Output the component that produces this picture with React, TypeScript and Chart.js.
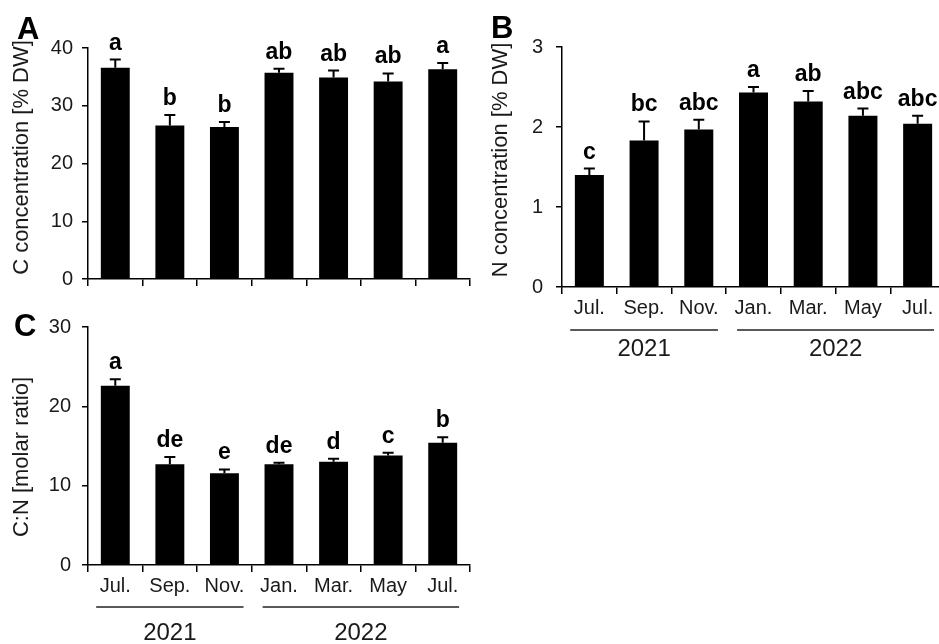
import React, { useEffect, useRef } from "react";
import { Chart, registerables } from "chart.js";
Chart.register(...registerables);

const months = ["Jul.", "Sep.", "Nov.", "Jan.", "Mar.", "May", "Jul."];
const years = ["2021", "2022"];
const yearFirst = [0, 3];
const yearLast = [2, 6];

const cValues = [36.6, 26.6, 26.3, 35.7, 34.9, 34.2, 36.3];
const cErrors = [1.4, 1.8, 0.9, 0.7, 1.2, 1.4, 1.1];
const cLetters = ["a", "b", "b", "ab", "ab", "ab", "a"];

const nValues = [1.4, 1.83, 1.97, 2.43, 2.32, 2.14, 2.04];
const nErrors = [0.08, 0.24, 0.12, 0.07, 0.13, 0.09, 0.1];
const nLetters = ["c", "bc", "abc", "a", "ab", "abc", "abc"];

const cnValues = [22.6, 12.7, 11.55, 12.7, 13.0, 13.8, 15.4];
const cnErrors = [0.8, 0.9, 0.5, 0.2, 0.4, 0.35, 0.7];
const cnLetters = ["a", "de", "e", "de", "d", "c", "b"];

const FONT = '"Liberation Sans", Arial, Helvetica, sans-serif';

const annotPlugin = {
  id: "annot",
  afterDatasetsDraw(chart: any, _args: any, opts: any) {
    const ctx = chart.ctx;
    const y = chart.scales.y;
    const ds = chart.data.datasets[0];
    const meta = chart.getDatasetMeta(0);
    ctx.save();
    meta.data.forEach((bar: any, i: number) => {
      const v = ds.data[i];
      const e = opts.errors[i];
      const px = bar.x;
      const yTop = y.getPixelForValue(v + e);
      const yBar = y.getPixelForValue(v);
      ctx.strokeStyle = "#000";
      ctx.lineWidth = 2;
      ctx.beginPath();
      ctx.moveTo(px, yBar);
      ctx.lineTo(px, yTop);
      ctx.moveTo(px - 5.5, yTop);
      ctx.lineTo(px + 5.5, yTop);
      ctx.stroke();
      ctx.font = `bold 23px ${FONT}`;
      ctx.textAlign = "center";
      ctx.textBaseline = "alphabetic";
      ctx.fillStyle = "#000";
      ctx.fillText(opts.letters[i], px, yTop - 10);
    });
    ctx.restore();
  },
  afterDraw(chart: any, _args: any, opts: any) {
    const ctx = chart.ctx;
    const area = chart.chartArea;
    const x = chart.scales.x;
    ctx.save();
    // panel letter
    ctx.font = `bold 31px ${FONT}`;
    ctx.fillStyle = "#000";
    ctx.textAlign = "left";
    ctx.textBaseline = "alphabetic";
    ctx.fillText(opts.panel, opts.panelX, opts.panelY);
    // y title
    ctx.save();
    ctx.translate(area.left - opts.titleOffset, (area.top + area.bottom) / 2 + opts.titleShift);
    ctx.rotate(-Math.PI / 2);
    ctx.font = `22px ${FONT}`;
    ctx.fillStyle = "#1a1a1a";
    ctx.textAlign = "center";
    ctx.textBaseline = "middle";
    ctx.fillText(opts.title, 0, 0);
    ctx.restore();
    // years
    if (opts.showYears) {
      const n = chart.data.labels.length;
      const cw = (x.right - x.left) / n;
      years.forEach((yr, k) => {
        const l = x.getPixelForValue(yearFirst[k]) - cw / 2;
        const r = x.getPixelForValue(yearLast[k]) + cw / 2;
        const c = (l + r) / 2;
        const half = ((r - l) * 0.9) / 2;
        ctx.strokeStyle = "#222";
        ctx.lineWidth = 1.5;
        ctx.beginPath();
        ctx.moveTo(c - half, area.bottom + opts.lineGap);
        ctx.lineTo(c + half, area.bottom + opts.lineGap);
        ctx.stroke();
        ctx.font = `24px ${FONT}`;
        ctx.fillStyle = "#1a1a1a";
        ctx.textAlign = "center";
        ctx.textBaseline = "middle";
        ctx.fillText(yr, c, area.bottom + opts.yearGap);
      });
    }
    ctx.restore();
  },
};

type PanelProps = {
  values: number[];
  errors: number[];
  letters: string[];
  yMax: number;
  yStep: number;
  showLabels: boolean;
  width: number;
  height: number;
  yWidth: number;
  xHeight: number;
  padTop: number;
  padRight: number;
  tickPad: number;
  panel: string;
  panelX: number;
  panelY: number;
  title: string;
  titleOffset: number;
  titleShift: number;
  lineGap: number;
  yearGap: number;
  style: React.CSSProperties;
};

function Panel(p: PanelProps) {
  const ref = useRef<HTMLCanvasElement | null>(null);
  useEffect(() => {
    if (!ref.current) return;
    const chart = new Chart(ref.current, {
      type: "bar",
      data: {
        labels: months,
        datasets: [
          {
            data: p.values,
            backgroundColor: "#000",
            borderColor: "#000",
            borderWidth: 0,
            categoryPercentage: 1,
            barPercentage: 0.53,
          },
        ],
      },
      plugins: [annotPlugin],
      options: {
        responsive: false,
        animation: false,
        layout: { padding: { top: p.padTop, right: p.padRight, left: 0, bottom: 0 } },
        plugins: {
          legend: { display: false },
          tooltip: { enabled: false },
          annot: {
            errors: p.errors,
            letters: p.letters,
            panel: p.panel,
            panelX: p.panelX,
            panelY: p.panelY,
            title: p.title,
            titleOffset: p.titleOffset,
            titleShift: p.titleShift,
            showYears: p.showLabels,
            lineGap: p.lineGap,
            yearGap: p.yearGap,
          },
        } as any,
        scales: {
          x: {
            type: "category",
            offset: true,
            grid: {
              display: true,
              drawOnChartArea: false,
              drawTicks: true,
              tickLength: 7,
              color: "#000",
              lineWidth: 1.5,
              offset: true,
            },
            border: { display: true, color: "#000", width: 1.5 },
            ticks: {
              display: p.showLabels,
              color: "#1a1a1a",
              font: { family: FONT, size: 20 },
              padding: 2,
              maxRotation: 0,
              autoSkip: false,
            },
            afterFit: (s: any) => {
              s.height = p.xHeight;
            },
          } as any,
          y: {
            min: 0,
            max: p.yMax,
            ticks: {
              stepSize: p.yStep,
              color: "#1a1a1a",
              font: { family: FONT, size: 20 },
              padding: p.tickPad,
            },
            grid: {
              drawOnChartArea: false,
              drawTicks: true,
              tickLength: 6,
              color: "#000",
              lineWidth: 1.5,
            },
            border: { display: true, color: "#000", width: 1.5 },
            afterFit: (s: any) => {
              s.width = p.yWidth;
            },
          } as any,
        },
      },
    });
    return () => chart.destroy();
  }, []);
  return <canvas ref={ref} width={p.width} height={p.height} style={{ position: "absolute", ...p.style }} />;
}

export default function App() {
  return (
    <div
      style={{
        position: "absolute",
        left: 0,
        top: 0,
        width: 939,
        height: 644,
        overflow: "hidden",
        background: "#fff",
      }}
    >
      <Panel
        values={cValues}
        errors={cErrors}
        letters={cLetters}
        yMax={40}
        yStep={10}
        showLabels={false}
        width={475}
        height={300}
        yWidth={88}
        xHeight={14}
        padTop={48}
        padRight={5}
        tickPad={9}
        panel="A"
        panelX={17}
        panelY={39}
        title="C concentration [% DW]"
        titleOffset={66}
        titleShift={-6}
        lineGap={0}
        yearGap={0}
        style={{ left: 0, top: 0 }}
      />
      <Panel
        values={nValues}
        errors={nErrors}
        letters={nLetters}
        yMax={3}
        yStep={1}
        showLabels={true}
        width={480}
        height={380}
        yWidth={92}
        xHeight={93}
        padTop={47}
        padRight={5}
        tickPad={13}
        panel="B"
        panelX={21}
        panelY={38}
        title="N concentration [% DW]"
        titleOffset={61}
        titleShift={-7}
        lineGap={43}
        yearGap={62}
        style={{ left: 470, top: 0 }}
      />
      <Panel
        values={cnValues}
        errors={cnErrors}
        letters={cnLetters}
        yMax={30}
        yStep={10}
        showLabels={true}
        width={475}
        height={344}
        yWidth={88}
        xHeight={79}
        padTop={27}
        padRight={5}
        tickPad={11}
        panel="C"
        panelX={14}
        panelY={36}
        title="C:N [molar ratio]"
        titleOffset={66}
        titleShift={11}
        lineGap={42}
        yearGap={68}
        style={{ left: 0, top: 300 }}
      />
    </div>
  );
}
